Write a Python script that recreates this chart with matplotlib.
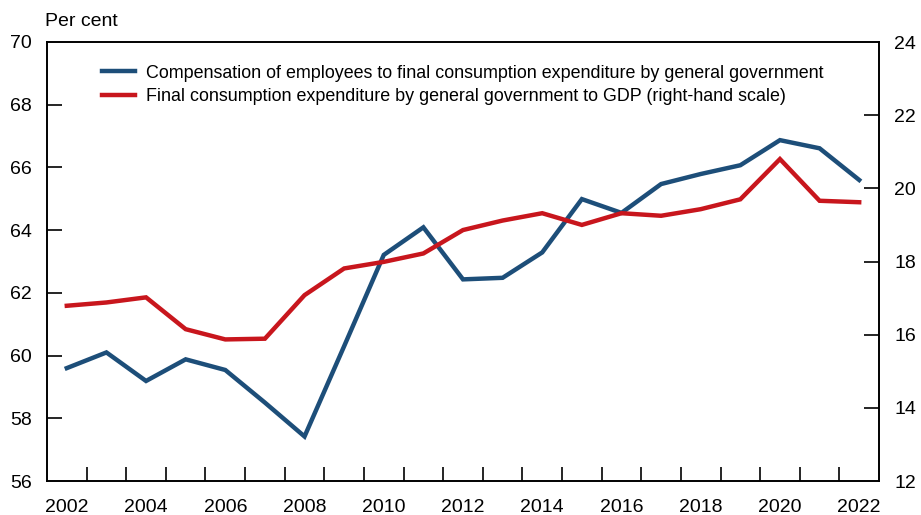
import numpy as np
import matplotlib
matplotlib.use('Agg')
import matplotlib.pyplot as plt

plt.rcParams['font.family'] = ['Liberation Sans', 'DejaVu Sans']

# Annual data, 2002-2022
years = list(range(2002, 2023))
compensation = [59.60, 60.10, 59.19, 59.88, 59.54, 58.50, 57.42, 60.30, 63.21, 64.09,
                62.43, 62.48, 63.29, 64.99, 64.55, 65.47, 65.79, 66.07, 66.87, 66.61, 65.60]
consumption_gdp = [16.79, 16.88, 17.02, 16.15, 15.87, 15.89, 17.08, 17.81, 17.99, 18.22,
                   18.86, 19.12, 19.32, 19.00, 19.32, 19.25, 19.43, 19.70, 20.80, 19.66, 19.62]

blue = '#1d4e79'
red = '#c8161d'

fig = plt.figure(figsize=(9.21, 5.15), dpi=100)
ax = fig.add_axes([47/921, 1-481/515, (879-47)/921, (481-42)/515])
ax2 = ax.twinx()

x = np.array(years) + 0.5
l1, = ax.plot(x, compensation, color=blue, lw=3.2, solid_joinstyle='miter',
              label='Compensation of employees to final consumption expenditure by general government')
l2, = ax2.plot(x, consumption_gdp, color=red, lw=3.2, solid_joinstyle='miter',
               label='Final consumption expenditure by general government to GDP (right-hand scale)')

ax.set_xlim(2002, 2023)
ax.set_ylim(56, 70)
ax2.set_ylim(12, 24)
ax.set_yticks(range(56, 71, 2))
ax2.set_yticks(range(12, 25, 2))

# year boundaries as ticks, labels at mid-year
ax.set_xticks(range(2003, 2023))
ax.set_xticklabels([])
ax.set_xticks([y + 0.5 for y in years if y % 2 == 0], minor=True)
ax.set_xticklabels([str(y) for y in years if y % 2 == 0], minor=True)
ax.tick_params(axis='x', which='major', direction='in', length=10, width=1.2)
ax.tick_params(axis='x', which='minor', length=0, pad=13, labelsize=14)
ax.tick_params(axis='y', direction='in', length=11, width=1.2, pad=11, labelsize=14)
ax2.tick_params(axis='y', direction='in', length=11, width=1.2, pad=11, labelsize=14)

for a in (ax, ax2):
    for s in a.spines.values():
        s.set_linewidth(1.2)

# hide end ticks that sit on the spines
for t in [ax.yaxis.get_major_ticks()[0], ax.yaxis.get_major_ticks()[-1]]:
    t.tick1line.set_visible(False)
for t in [ax2.yaxis.get_major_ticks()[0], ax2.yaxis.get_major_ticks()[-1]]:
    t.tick2line.set_visible(False)

fig.text(45/921, 1-21/515, 'Per cent', fontsize=14, va='center', ha='left')

ax.legend(handles=[l1, l2], loc='upper left', bbox_to_anchor=(0.058, 0.965),
          frameon=False, fontsize=12.9, handlelength=1.8, handletextpad=0.65,
          labelspacing=0.35, borderaxespad=0)

fig.savefig('out.png', dpi=100)
